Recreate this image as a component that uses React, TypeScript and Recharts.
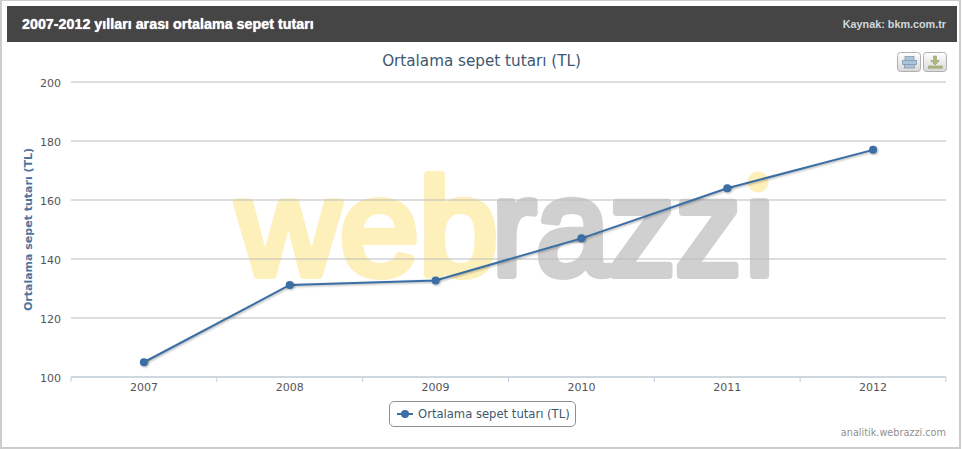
import React from "react";
import { LineChart, Line, XAxis, YAxis, CartesianGrid, Legend } from "recharts";

const years = ["2007", "2008", "2009", "2010", "2011", "2012"];
const basketValues = [105, 131.2, 132.7, 147, 164, 177];
const yTicks = [100, 120, 140, 160, 180, 200];
const seriesName = "Ortalama sepet tutarı (TL)";
const data = years.map((year, i) => ({ year, value: basketValues[i] }));

const W = 963;
const H = 449;
const M = { top: 82, right: 17, bottom: 16, left: 20 };
const Y_W = 51;
const BAND = (W - M.left - Y_W - M.right) / years.length;
const BLUE = "#3a6ea5";
const FONT = "'DejaVu Sans', sans-serif";

const XTick = (props: any) => {
  const { x, payload, index } = props;
  const tickY = 377;
  return (
    <g>
      <line x1={x - BAND / 2} x2={x - BAND / 2} y1={tickY} y2={tickY + 5} stroke="#c0d0e0" />
      {index === years.length - 1 && (
        <line x1={x + BAND / 2} x2={x + BAND / 2} y1={tickY} y2={tickY + 5} stroke="#c0d0e0" />
      )}
      <text x={x} y={tickY + 14} textAnchor="middle" fontSize={11} fill="#555" fontFamily={FONT}>
        {payload.value}
      </text>
    </g>
  );
};

const LegendBox = () => (
  <div
    style={{
      boxSizing: "border-box",
      width: 187,
      height: 26,
      marginLeft: 389,
      border: "1px solid #909090",
      borderRadius: 5,
      background: "#fff",
      display: "flex",
      alignItems: "center",
      fontFamily: FONT,
      fontSize: 11.6,
      color: "#3e576f",
      whiteSpace: "nowrap",
    }}
  >
    <svg width={28} height={12} style={{ flex: "none" }}>
      <line x1={7} x2={23} y1={6} y2={6} stroke={BLUE} strokeWidth={2} />
      <circle cx={15} cy={6} r={4} fill={BLUE} />
    </svg>
    <span>{seriesName}</span>
  </div>
);

const Watermark = () => (
  <svg width={W} height={H} style={{ position: "absolute", left: 0, top: 0 }}>
    <g
      fontFamily="'Liberation Sans', sans-serif"
      fontWeight={400}
      fontSize={138}
      strokeWidth={8}
      strokeLinejoin="round"
      strokeLinecap="round"
    >
      <text x={237} y={275} fill="#fdf0bb" stroke="#fdf0bb" textLength={261} lengthAdjust="spacingAndGlyphs">
        web
      </text>
      <text x={492} y={275} fill="#d0d0d0" stroke="#d0d0d0" textLength={286} lengthAdjust="spacingAndGlyphs">
        razzı
      </text>
    </g>
    <circle cx={758} cy={182} r={10.5} fill="#fdf0bb" />
  </svg>
);

const IconButton = ({ left, kind }: { left: number; kind: "print" | "export" }) => (
  <svg width={24} height={20} style={{ position: "absolute", left, top: 52 }}>
    <defs>
      <linearGradient id={`grad-${kind}`} x1="0" y1="0" x2="0" y2="1">
        <stop offset="0" stopColor="#fff" />
        <stop offset="1" stopColor="#d8d8d8" />
      </linearGradient>
    </defs>
    <rect x={0.5} y={0.5} width={23} height={19} rx={3} fill={`url(#grad-${kind})`} stroke="#b0b0b0" />
    {kind === "print" ? (
      <g fill="#a9c4de" stroke="#8a9aa8" strokeWidth={0.8}>
        <rect x={8} y={4.5} width={9} height={4} />
        <rect x={5.5} y={8.5} width={14} height={4} />
        <rect x={7.5} y={12.5} width={10} height={3.5} />
      </g>
    ) : (
      <g fill="#a9b97a" stroke="#98a070" strokeWidth={0.6}>
        <path d="M10.5 4h3v4.5h3l-4.500 4.500-4.500-4.500h3z" />
        <rect x={5.5} y={14} width={14} height={2.2} />
      </g>
    )}
  </svg>
);

export default function App() {
  return (
    <div style={{ position: "absolute", left: 0, top: 0, width: W, height: H, background: "#fff", overflow: "hidden" }}>
      <div
        style={{
          position: "absolute",
          left: 0,
          top: 0,
          width: 961,
          height: 449,
          boxSizing: "border-box",
          borderTop: "1px solid #ccc",
          borderLeft: "2px solid #ccc",
          borderRight: "2px solid #ccc",
          borderBottom: "2px solid #ccc",
        }}
      />
      <div style={{ position: "absolute", left: 7, top: 6, width: 950, height: 36, background: "#454545" }} />
      <div
        style={{
          position: "absolute",
          left: 22,
          top: 6,
          height: 36,
          lineHeight: "36px",
          fontFamily: "'Liberation Sans', sans-serif",
          fontWeight: 700,
          fontSize: 14.3,
          color: "#fff",
          whiteSpace: "nowrap",
          textShadow: "0 0 1px #fff",
        }}
      >
        2007-2012 yılları arası ortalama sepet tutarı
      </div>
      <div
        style={{
          position: "absolute",
          right: 17,
          top: 6,
          height: 36,
          lineHeight: "36px",
          fontFamily: "'Liberation Sans', sans-serif",
          fontWeight: 700,
          fontSize: 10.8,
          color: "#cfd8de",
          whiteSpace: "nowrap",
        }}
      >
        Kaynak: bkm.com.tr
      </div>
      <Watermark />
      <div style={{ position: "absolute", left: 0, top: 0 }}>
        <LineChart width={W} height={H} data={data} margin={M}>
          <CartesianGrid horizontal vertical={false} stroke="#bcbcbc" strokeWidth={1} />
          <XAxis
            dataKey="year"
            stroke="#c0d0e0"
            tickLine={false}
            height={30}
            interval={0}
            padding={{ left: BAND / 2, right: BAND / 2 }}
            tick={<XTick />}
          />
          <YAxis
            domain={[100, 200]}
            ticks={yTicks}
            width={Y_W}
            axisLine={false}
            tickLine={false}
            tickMargin={4}
            tick={{ fontSize: 11, fill: "#555", fontFamily: FONT, dy: 1 }}
            label={{
              value: seriesName,
              angle: -90,
              position: "insideLeft",
              offset: 8,
              style: { textAnchor: "middle", fontSize: 11, fontWeight: 700, fill: "#4d759e", fontFamily: FONT },
            }}
          />
          <Legend
            content={<LegendBox />}
            wrapperStyle={{ position: "absolute", left: 0, top: 401, width: W, height: 26, bottom: "auto" }}
          />
          <Line
            type="linear"
            dataKey="value"
            name={seriesName}
            stroke={BLUE}
            strokeWidth={2}
            dot={{ r: 4, fill: BLUE, stroke: BLUE, strokeWidth: 0 }}
            isAnimationActive={false}
            style={{ filter: "drop-shadow(1px 1px 1px rgba(0,0,0,0.3))" }}
          />
        </LineChart>
      </div>
      <div
        style={{
          position: "absolute",
          left: 0,
          width: W,
          top: 52,
          textAlign: "center",
          fontFamily: FONT,
          fontSize: 15.2,
          color: "#3e576f",
          whiteSpace: "nowrap",
        }}
      >
        {seriesName}
      </div>
      <IconButton left={897} kind="print" />
      <IconButton left={923} kind="export" />
      <div
        style={{
          position: "absolute",
          right: 17,
          top: 427,
          fontFamily: FONT,
          fontSize: 9.7,
          color: "#909090",
          whiteSpace: "nowrap",
        }}
      >
        analitik.webrazzi.com
      </div>
    </div>
  );
}
